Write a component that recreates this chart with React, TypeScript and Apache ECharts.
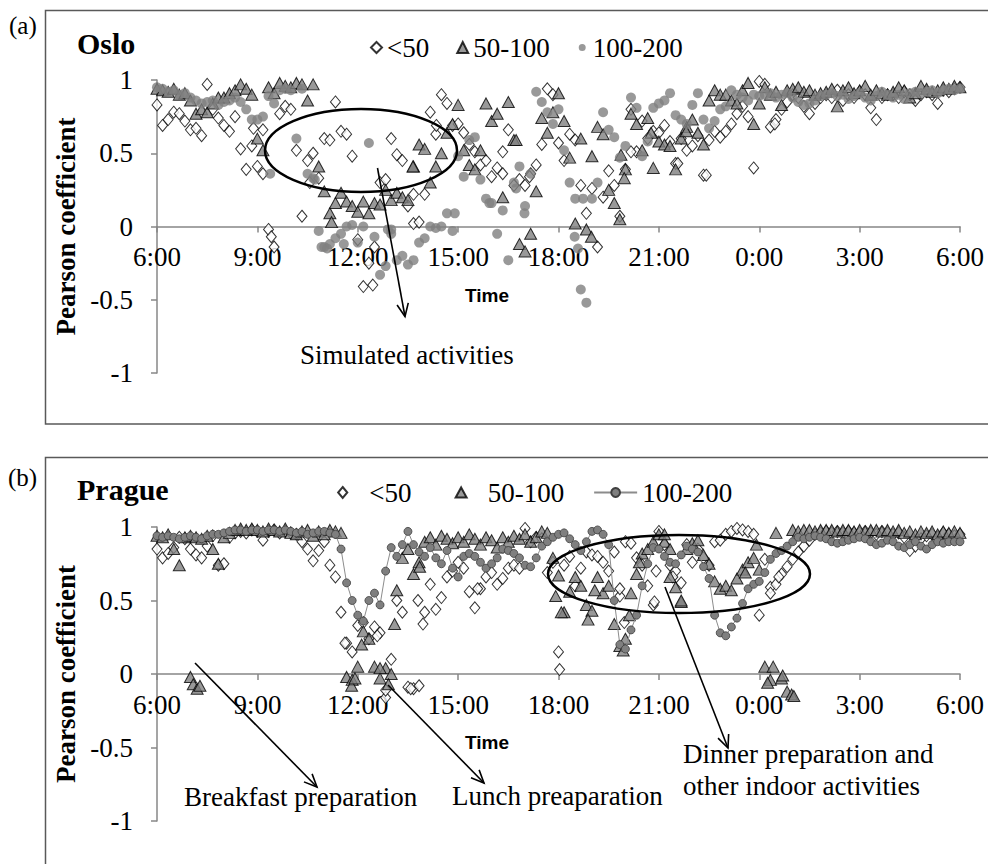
import React, { useEffect, useRef } from 'react';
import * as echarts from 'echarts';

// ---- time axis ----
const STEP_MIN = 10; // one grid value every 10 minutes, starting at 6:00
const TIME_TICKS = ['6:00', '9:00', '12:00', '15:00', '18:00', '21:00', '0:00', '3:00', '6:00'];

// ---- Oslo (a) ----
const OSLO_LT50 = [
  0.83, 0.69, 0.73, 0.78, 0.77, 0.72,
  0.66, 0.67, 0.62, 0.97, 0.80, 0.74,
  0.69, 0.65, 0.75, 0.53, 0.39, 0.55,
  0.41, 0.36, -0.02, -0.14, 0.77, 0.82,
  0.80, 0.52, 0.07, 0.45, 0.50, 0.33,
  0.60, 0.59, 0.85, 0.65, 0.63, 0.48,
  -0.09, -0.41, -0.25, -0.14, 0.30, 0.32,
  0.60, 0.49, 0.45, 0.14, 0.02, 0.03,
  0.22, 0.78, 0.63, 0.90, 0.84, 0.69,
  0.70, 0.64, 0.56, 0.51, 0.42, 0.45,
  0.34, 0.40, 0.51, 0.66, 0.28, 0.32,
  0.28, 0.36, 0.42, 0.56, 0.94, 0.90,
  0.57, 0.45, 0.63, 0.59, 0.28, 0.09,
  0.26, -0.14, 0.20, 0.38, 0.28, 0.07,
  0.39, 0.80, 0.51, 0.72, 0.60, 0.65,
  0.64, 0.69, 0.58, 0.43, 0.60, 0.52,
  0.55, 0.62, 0.35, 0.59, 0.65, 0.61,
  0.65, 0.70, 0.77, 0.82, 0.75, 0.40,
  0.99, 0.97, 0.68, 0.73, 0.80, 0.85,
  0.90, 0.88, 0.82, 0.77, 0.84, 0.88,
  0.90, 0.88, 0.93, 0.86, 0.90, 0.88,
  0.92, 0.90, 0.81, 0.73, 0.88, 0.90,
  0.90, 0.88, 0.92, 0.90, 0.86, 0.90,
  0.92, 0.90, 0.84, 0.93, 0.92, 0.94,
  0.95,
];
const OSLO_LT50_EXTRA: [string, number][] = [
  ['08:53', 0.67], ['09:10', 0.66], ['09:25', -0.07], ['10:34', 0.30], ['12:27', -0.40],
  ['13:40', 0.22], ['14:21', 0.69], ['16:20', 0.36], ['17:08', 0.34], ['20:10', 0.51],
  ['21:34', 0.43], ['22:25', 0.35], ['00:28', 0.70],
];
const OSLO_MID = [
  0.94, 0.93, 0.92, 0.94, 0.90, 0.91,
  0.86, 0.77, 0.80, 0.78, 0.84, 0.88,
  0.88, 0.91, 0.93, 0.97, 0.94, 0.90,
  0.60, 0.52, 0.95, 0.91, 0.98, 0.96,
  0.95, 0.98, 0.97, 0.86, 0.97, 0.41,
  0.24, 0.09, 0.16, 0.23, 0.17, 0.14,
  0.10, 0.17, 0.09, 0.16, 0.15, 0.25,
  0.18, 0.23, 0.20, 0.18, 0.41, 0.56,
  0.53, 0.30, 0.41, 0.50, 0.64, 0.70,
  0.83, 0.52, 0.42, 0.39, 0.52, 0.84,
  0.72, 0.77, 0.20, 0.85, 0.59, -0.12,
  -0.17, -0.05, 0.24, 0.74, 0.64, 0.78,
  0.91, 0.72, 0.47, 0.02, 0.60, -0.02,
  0.48, 0.68, 0.63, 0.25, 0.16, 0.05,
  0.39, 0.77, 0.70, 0.52, 0.74, 0.40,
  0.58, 0.56, 0.55, 0.39, 0.60, 0.68,
  0.73, 0.64, 0.56, 0.86, 0.93, 0.90,
  0.90, 0.86, 0.84, 0.93, 0.98, 0.70,
  0.84, 0.95, 0.90, 0.92, 0.83, 0.93,
  0.94, 0.95, 0.92, 0.93, 0.90, 0.91,
  0.92, 0.94, 0.82, 0.93, 0.95, 0.91,
  0.93, 0.96, 0.90, 0.93, 0.91, 0.90,
  0.92, 0.95, 0.93, 0.88, 0.91, 0.96,
  0.94, 0.92, 0.93, 0.95, 0.94, 0.96,
  0.95,
];
const OSLO_MID_EXTRA: [string, number][] = [
  ['11:13', 0.03], ['13:39', 0.41], ['16:44', 0.59], ['18:59', -0.07], ['19:52', 0.49],
  ['19:58', 0.33], ['20:46', 0.64], ['21:49', 0.65],
];
const OSLO_HIGH = [
  0.95, 0.94, 0.92, 0.93, 0.90, 0.91,
  0.88, 0.86, 0.84, 0.85, 0.86, 0.83,
  0.85, 0.86, 0.88, 0.85, 0.80, 0.73,
  0.73, 0.75, 0.89, 0.84, 0.93, 0.94,
  0.93, 0.60, 0.94, 0.36, 0.33, -0.03,
  -0.14, -0.12, -0.08, -0.05, 0.00, 0.01,
  -0.11, 0.00, 0.57, -0.07, -0.33, -0.27,
  -0.02, -0.23, -0.20, -0.26, -0.23, -0.11,
  -0.08, 0.00, -0.01, 0.00, 0.09, -0.03,
  0.48, 0.34, 0.59, 0.61, 0.32, 0.19,
  0.16, -0.05, 0.11, -0.23, 0.30, 0.41,
  0.14, 0.36, 0.92, 0.85, 0.78, 0.70,
  0.80, 0.52, 0.30, 0.19, -0.43, -0.52,
  0.19, 0.30, 0.78, 0.66, 0.61, 0.47,
  0.55, 0.88, 0.81, 0.48, 0.58, 0.81,
  0.84, 0.86, 0.91, 0.76, 0.73, 0.70,
  0.83, 0.91, 0.73, 0.67, 0.72, 0.80,
  0.82, 0.93, 0.90, 0.88, 0.86, 0.90,
  0.89, 0.90, 0.91, 0.88, 0.90, 0.91,
  0.88, 0.85, 0.83, 0.84, 0.86, 0.89,
  0.90, 0.91, 0.89, 0.90, 0.87, 0.89,
  0.91, 0.88, 0.86, 0.89, 0.92, 0.90,
  0.88, 0.90, 0.87, 0.91, 0.92, 0.91,
  0.92, 0.93, 0.91, 0.93, 0.94, 0.93,
  0.94,
];
const OSLO_HIGH_EXTRA: [string, number][] = [
  ['09:23', 0.36], ['10:43', 0.32], ['10:55', -0.14], ['11:05', -0.15], ['11:35', -0.12],
  ['12:54', -0.02], ['13:00', -0.05], ['14:54', 0.09], ['15:56', 0.16], ['16:44', 0.26],
  ['16:59', 0.09], ['18:29', -0.07], ['18:35', -0.15], ['18:44', 0.19],
];

// ---- Prague (b) ----
const PRAGUE_LT50 = [
  0.85, 0.79, 0.82, 0.86, 0.93, 0.92,
  0.85, 0.81, 0.79, 0.87, 0.94, 0.74,
  0.75, 0.93, 0.96, 0.97, 0.96, 0.98,
  0.97, 0.91, 0.97, 0.98, 0.96, 0.97,
  0.96, 0.95, 0.90, 0.85, 0.77, 0.84,
  0.90, 0.74, 0.66, 0.42, 0.21, 0.15,
  0.33, 0.35, 0.24, 0.32, 0.28, -0.16,
  0.10, 0.50, 0.42, -0.09, -0.10, -0.08,
  0.42, 0.61, 0.44, 0.52, 0.66, 0.70,
  0.76, 0.72, 0.56, 0.45, 0.58, 0.66,
  0.69, 0.61, 0.65, 0.72, 0.74, 0.72,
  0.99, 0.90, 0.93, 0.92, 0.69, 0.76,
  0.15, 0.74, 0.80, 0.60, 0.72, 0.83,
  0.81, 0.80, 0.76, 0.70, 0.83, 0.53,
  0.90, 0.89, 0.79, 0.74, 0.60, 0.47,
  0.97, 0.88, 0.74, 0.70, 0.62, 0.88,
  0.76, 0.85, 0.79, 0.74, 0.90, 0.91,
  0.95, 0.97, 0.99, 0.98, 0.97, 0.95,
  0.40, 0.78, 0.59, 0.61, 0.68, 0.73,
  0.78, 0.83, 0.87, 0.91, 0.95, 0.96,
  0.97, 0.96, 0.97, 0.96, 0.97, 0.96,
  0.96, 0.97, 0.96, 0.95, 0.97, 0.96,
  0.95, 0.96, 0.93, 0.84, 0.87, 0.92,
  0.94, 0.95, 0.93, 0.96, 0.95, 0.94,
  0.95,
];
const PRAGUE_LT50_EXTRA: [string, number][] = [
  ['11:37', 0.21], ['12:35', 0.26], ['12:50', -0.11], ['13:35', -0.10], ['13:48', 0.50],
  ['13:57', 0.34], ['15:35', 0.58], ['18:02', 0.03], ['19:50', 0.58], ['19:58', 0.35],
  ['20:52', 0.49], ['20:55', 0.70], ['21:25', 0.66], ['00:20', 0.55], ['00:35', 0.66],
];
const PRAGUE_MID = [
  0.94, 0.93, 0.95, 0.85, 0.74, 0.93,
  0.94, 0.93, 0.92, 0.94, 0.85, 0.75,
  0.93, 0.96, 0.98, 0.99, 0.98, 0.99,
  0.98, 0.97, 0.99, 0.98, 0.97, 0.99,
  0.96, 0.95, 0.97, 0.98, 0.94, 0.97,
  0.95, 0.98, 0.97, 0.96, -0.02, -0.04,
  0.05, 0.29, 0.24, 0.05, -0.03, 0.04,
  0.00, 0.57, 0.79, 0.85, 0.68, 0.76,
  0.90, 0.93, 0.88, 0.94, 0.92, 0.89,
  0.93, 0.90, 0.95, 0.92, 0.88, 0.93,
  0.91, 0.86, 0.93, 0.90, 0.94, 0.92,
  0.95, 0.90, 0.93, 0.97, 0.96, 0.79,
  0.67, 0.42, 0.56, 0.66, 0.60, 0.47,
  0.43, 0.66, 0.55, 0.60, 0.34, 0.19,
  0.24, 0.55, 0.68, 0.82, 0.85, 0.90,
  0.95, 0.90, 0.66, 0.59, 0.49, 0.85,
  0.89, 0.91, 0.81, 0.75, 0.63, 0.58,
  0.60, 0.57, 0.65, 0.71, 0.76, 0.79,
  0.71, 0.05, -0.04, 0.96, -0.03, -0.12,
  0.98, 0.97, 0.98, 0.98, 0.97, 0.98,
  0.98, 0.98, 0.97, 0.98, 0.98, 0.97,
  0.98, 0.97, 0.98, 0.98, 0.97, 0.98,
  0.97, 0.98, 0.96, 0.97, 0.95, 0.97,
  0.96, 0.97, 0.95, 0.97, 0.96, 0.97,
  0.96,
];
const PRAGUE_MID_EXTRA: [string, number][] = [
  ['07:00', -0.02], ['07:05', -0.07], ['07:12', -0.10], ['07:17', -0.08], ['11:49', -0.08],
  ['11:55', -0.03], ['12:07', 0.20], ['12:40', 0.04], ['12:55', -0.07], ['13:06', 0.34],
  ['13:51', 0.73], ['17:55', 0.53], ['18:05', 0.42], ['18:53', 0.37], ['19:05', 0.57],
  ['19:56', 0.16], ['20:07', 0.40], ['20:25', 0.76], ['21:10', 0.95], ['21:20', 0.85],
  ['21:40', 0.50], ['23:35', 0.69], ['23:55', 0.88], ['00:15', -0.06], ['00:25', 0.05],
  ['00:42', -0.01], ['00:58', -0.14], ['01:02', -0.15],
];
const PRAGUE_HIGH = [
  0.94, 0.93, 0.94, 0.93, 0.92, 0.93,
  0.94, 0.93, 0.92, 0.94, 0.95, 0.95,
  0.96, 0.97, 0.98, 0.98, 0.97, 0.98,
  0.98, 0.97, 0.98, 0.98, 0.97, 0.98,
  0.97, 0.96, 0.97, 0.95, 0.96, 0.97,
  0.97, 0.96, 0.95, 0.85, 0.62, 0.50,
  0.40, 0.36, 0.50, 0.55, 0.47, 0.70,
  0.86, 0.80, 0.88, 0.97, 0.88, 0.83,
  0.80, 0.86, 0.79, 0.75, 0.84, 0.72,
  0.66, 0.80, 0.82, 0.80, 0.76, 0.72,
  0.75, 0.79, 0.85, 0.84, 0.82, 0.79,
  0.74, 0.73, 0.79, 0.87, 0.90, 0.93,
  0.95, 0.96, 0.92, 0.88, 0.84, 0.90,
  0.97, 0.98, 0.95, 0.88, 0.50, 0.20,
  0.17, 0.30, 0.40, 0.60, 0.75, 0.86,
  0.85, 0.80, 0.76, 0.75, 0.81, 0.87,
  0.85, 0.83, 0.73, 0.65, 0.40, 0.28,
  0.26, 0.32, 0.38, 0.48, 0.58, 0.61,
  0.63, 0.69, 0.78, 0.82, 0.84, 0.87,
  0.90, 0.93, 0.92, 0.93, 0.94, 0.93,
  0.92, 0.90, 0.89, 0.90, 0.91, 0.92,
  0.93, 0.92, 0.90, 0.88, 0.89, 0.91,
  0.90, 0.87, 0.86, 0.88, 0.90, 0.87,
  0.85, 0.88, 0.90, 0.89, 0.90, 0.90,
  0.90,
];

const SERIF = 'Liberation Serif';
const AXIS_GRAY = '#878787';

const GRID_A = { left: 157, top: 80, width: 803, height: 293 };
const GRID_B = { left: 157, top: 527, width: 803, height: 294 };

const parseTime = (t: string) => {
  const [h, m] = t.split(':').map(Number);
  return (((h * 60 + m) - 360 + 1440) % 1440) / 60;
};
const toGrid = (vals: number[]) => vals.map((v, i) => [(i * STEP_MIN) / 60, v]);
const withExtras = (vals: number[], extras: [string, number][]) =>
  toGrid(vals).concat(extras.map(([t, v]) => [parseTime(t), v]));

const arrow = (x1: number, y1: number, x2: number, y2: number) => {
  const ang = Math.atan2(y2 - y1, x2 - x1);
  const len = 14;
  const spread = (24 * Math.PI) / 180;
  const a1 = ang + Math.PI - spread;
  const a2 = ang + Math.PI + spread;
  return [
    { type: 'line', z: 100, shape: { x1, y1, x2, y2 }, style: { stroke: '#000', lineWidth: 1.6 } },
    {
      type: 'polyline', z: 100,
      shape: { points: [[x2 + len * Math.cos(a1), y2 + len * Math.sin(a1)], [x2, y2], [x2 + len * Math.cos(a2), y2 + len * Math.sin(a2)]] },
      style: { stroke: '#000', lineWidth: 1.6, fill: 'none' },
    },
  ];
};

const txt = (text: string, x: number, y: number, size: number, weight = 'normal', family = SERIF, align = 'left') => ({
  type: 'text', z: 100, x, y,
  style: { text, fontSize: size, fontFamily: family, fontWeight: weight, fill: '#000', align, verticalAlign: 'middle' },
});

// the time axis is drawn at y = 0 (the middle of the symmetric -1..1 range)
const xAxisBase = (gridIndex: number, gridHeight: number) => ({
  type: 'value', gridIndex, min: 0, max: 24, interval: 3,
  position: 'bottom', offset: -gridHeight / 2,
  axisLine: { show: true, onZero: false, lineStyle: { color: AXIS_GRAY, width: 1.5 } },
  axisTick: { show: true, length: 6, lineStyle: { color: AXIS_GRAY, width: 1.5 } },
  axisLabel: { formatter: (v: number) => TIME_TICKS[Math.round(v / 3)], color: '#000', fontFamily: SERIF, fontSize: 27, margin: 17 },
  splitLine: { show: false },
});
const yAxisBase = (gridIndex: number) => ({
  type: 'value', gridIndex, min: -1, max: 1, interval: 0.5,
  axisLine: { show: true, onZero: false, lineStyle: { color: AXIS_GRAY, width: 1.5 } },
  axisTick: { show: true, length: 6, lineStyle: { color: AXIS_GRAY, width: 1.5 } },
  axisLabel: { color: '#000', fontFamily: SERIF, fontSize: 27, margin: 24 },
  splitLine: { show: false },
  name: 'Pearson coefficient', nameLocation: 'middle', nameRotate: 90, nameGap: 72,
  nameTextStyle: { fontFamily: SERIF, fontWeight: 'bold', fontSize: 27, color: '#000' },
});

const diamondStyle = { color: '#ffffff', borderColor: '#000000', borderWidth: 1 };
const triStyle = { color: '#7f7f7f', borderColor: '#000000', borderWidth: 1 };

export default function App() {
  const ref = useRef<HTMLDivElement>(null);
  useEffect(() => {
    if (!ref.current) return;
    const chart = echarts.init(ref.current, undefined, { renderer: 'svg' });
    const option: any = {
      animation: false,
      backgroundColor: '#ffffff',
      grid: [GRID_A, GRID_B],
      xAxis: [xAxisBase(0, GRID_A.height), xAxisBase(1, GRID_B.height)],
      yAxis: [yAxisBase(0), yAxisBase(1)],
      legend: [
        {
          left: 370, top: 34, padding: 0, itemWidth: 11, itemHeight: 11, itemGap: 27, selectedMode: false,
          symbolKeepAspect: true,
          textStyle: { fontFamily: SERIF, fontSize: 27, color: '#000' },
          formatter: (n: string) => n.replace('Oslo ', ''),
          data: [
            { name: 'Oslo <50' },
            { name: 'Oslo 50-100' },
            { name: 'Oslo 100-200', icon: 'path://M0 0M11 11M2 5.5a3.5 3.5 0 1 0 7 0a3.5 3.5 0 1 0 -7 0Z' },
          ],
        },
        {
          left: 322, top: 479, padding: 0, itemWidth: 43, itemHeight: 11, itemGap: 29, selectedMode: false,
          symbolKeepAspect: true,
          textStyle: { fontFamily: SERIF, fontSize: 27, color: '#000' },
          formatter: (n: string) => n.replace('Prague ', ''),
          data: [
            { name: 'Prague <50', icon: 'path://M0 0M43 12M21.5 0L26.5 6L21.5 12L16.5 6Z' },
            { name: 'Prague 50-100', icon: 'path://M0 0M43 12M21.5 0.5L27.5 11.5L15.5 11.5Z' },
            { name: 'Prague 100-200' },
          ],
        },
      ],
      series: [
        { name: 'Oslo <50', type: 'scatter', xAxisIndex: 0, yAxisIndex: 0, symbol: 'diamond', symbolSize: [10, 12], itemStyle: diamondStyle, data: withExtras(OSLO_LT50, OSLO_LT50_EXTRA) },
        { name: 'Oslo 50-100', type: 'scatter', xAxisIndex: 0, yAxisIndex: 0, symbol: 'triangle', symbolSize: [12, 11], itemStyle: triStyle, data: withExtras(OSLO_MID, OSLO_MID_EXTRA) },
        { name: 'Oslo 100-200', type: 'scatter', xAxisIndex: 0, yAxisIndex: 0, symbol: 'circle', symbolSize: 10, itemStyle: { color: '#7f7f7f' }, data: withExtras(OSLO_HIGH, OSLO_HIGH_EXTRA) },
        { name: 'Prague <50', type: 'scatter', xAxisIndex: 1, yAxisIndex: 1, symbol: 'diamond', symbolSize: [10, 12], itemStyle: diamondStyle, data: withExtras(PRAGUE_LT50, PRAGUE_LT50_EXTRA) },
        { name: 'Prague 50-100', type: 'scatter', xAxisIndex: 1, yAxisIndex: 1, symbol: 'triangle', symbolSize: [12, 11], itemStyle: triStyle, data: withExtras(PRAGUE_MID, PRAGUE_MID_EXTRA) },
        {
          name: 'Prague 100-200', type: 'line', xAxisIndex: 1, yAxisIndex: 1, symbol: 'circle', symbolSize: 8, showSymbol: true,
          lineStyle: { color: '#8c8c8c', width: 1 }, itemStyle: { color: '#7f7f7f', borderColor: '#3f3f3f', borderWidth: 0.8 },
          data: toGrid(PRAGUE_HIGH),
        },
      ],
      graphic: [
        { type: 'rect', z: 0, shape: { x: 45.5, y: 10.5, width: 1000, height: 413.5 }, style: { fill: 'none', stroke: '#595959', lineWidth: 1.5 } },
        { type: 'rect', z: 0, shape: { x: 45.5, y: 457.5, width: 1000, height: 500 }, style: { fill: 'none', stroke: '#595959', lineWidth: 1.5 } },
        txt('(a)', 9, 25, 25),
        txt('(b)', 8, 477, 25),
        txt('Oslo', 77, 43, 30, 'bold'),
        txt('Prague', 77, 489, 30, 'bold'),
        txt('Time', 487, 295, 19, 'bold', 'Liberation Sans', 'center'),
        txt('Time', 487, 742, 19, 'bold', 'Liberation Sans', 'center'),
        { type: 'ellipse', z: 100, shape: { cx: 361, cy: 150.5, rx: 96, ry: 41.5 }, style: { fill: 'none', stroke: '#000', lineWidth: 2.5 } },
        { type: 'ellipse', z: 100, shape: { cx: 679, cy: 574, rx: 131, ry: 39 }, style: { fill: 'none', stroke: '#000', lineWidth: 2.5 } },
        ...arrow(377.5, 168, 405, 316.5),
        ...arrow(665, 587, 728, 748),
        ...arrow(195, 663, 317, 787),
        ...arrow(388, 685, 484, 783),
        txt('Simulated activities', 300, 355, 27),
        txt('Breakfast preparation', 184, 797, 27),
        txt('Lunch preaparation', 452, 796, 27),
        txt('Dinner preparation and', 683, 754, 27),
        txt('other indoor activities', 683, 786, 27),
      ],
    };
    chart.setOption(option);
    return () => chart.dispose();
  }, []);
  return <div ref={ref} style={{ position: 'absolute', left: 0, top: 0, width: 988, height: 864, background: '#fff' }} />;
}
